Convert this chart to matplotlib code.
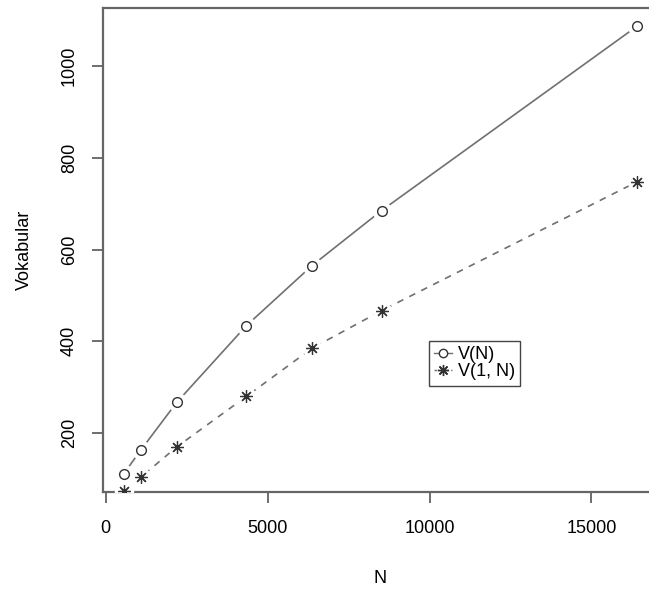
import matplotlib
matplotlib.use("Agg")
import matplotlib.pyplot as plt

N = [550, 1080, 2190, 4340, 6370, 8520, 16420]
V_N = [111, 163, 267, 434, 565, 685, 1087]
V_1N = [74, 104, 170, 280, 385, 467, 748]
xticks = [0, 5000, 10000, 15000]
yticks = [200, 400, 600, 800, 1000]

plt.rcParams['font.family'] = ['Liberation Sans', 'DejaVu Sans']
fs = 13

fig = plt.figure(figsize=(6.49, 5.89), dpi=100)
ax = fig.add_axes([103/649, 97/589, 555/649, 484/589])

lc = '#707070'
mc = '#333333'
ax.plot(N, V_N, '-', color=lc, lw=1.2, zorder=2)
ax.plot(N, V_1N, '--', color=lc, lw=1.2, dashes=(4, 4), zorder=2)
# white halos to create gaps like R type="b"
ax.plot(N, V_N, 'o', color='white', ms=14, mec='none', zorder=3)
ax.plot(N, V_1N, 'o', color='white', ms=14, mec='none', zorder=3)
ax.plot(N, V_N, 'o', mfc='white', mec=mc, ms=7, mew=1.0, ls='none', zorder=4)
ax.plot(N, V_1N, marker=(8, 2, 0), color=mc, ms=9, mew=0.9, ls='none', zorder=4)

# legend proxies
h1, = ax.plot([], [], '-', color=lc, lw=1.0, marker='o', mfc='white', mec=mc, ms=6)
h2, = ax.plot([], [], '--', color=lc, lw=1.0, dashes=(2, 2), marker=(8, 2, 0), mec=mc, ms=8)

xr = max(N) - min(N)
ax.set_xlim(min(N) - 0.04 * xr, max(N) + 0.04 * xr)
yr = max(V_N) - min(V_N)
ax.set_ylim(min(V_N) - 0.04 * yr, max(V_N) + 0.04 * yr)

ax.set_xticks(xticks)
ax.set_xticklabels([str(t) for t in xticks], fontsize=fs)
ax.set_yticks(yticks)
ax.set_yticklabels([str(t) for t in yticks], fontsize=fs, rotation=90, va='center')
ax.tick_params(axis='x', length=8, width=1.2, color='#555555', pad=12)
ax.tick_params(axis='y', length=8, width=1.2, color='#555555', pad=10)

for s in ['left', 'bottom', 'top', 'right']:
    ax.spines[s].set_color('#666666')
    ax.spines[s].set_linewidth(1.6)

ax.set_xlabel('N', fontsize=fs, labelpad=24)
ax.set_ylabel('Vokabular', fontsize=fs, labelpad=20)

leg = ax.legend([h1, h2], ['V(N)', 'V(1, N)'], loc='upper left',
                bbox_to_anchor=(0.587, 0.312), fontsize=fs, handlelength=1.0,
                handletextpad=0.3, labelspacing=0.0, borderpad=0.3,
                fancybox=False, framealpha=1, borderaxespad=0)
leg.get_frame().set_edgecolor('#444444')
leg.get_frame().set_linewidth(1.0)

fig.savefig('out.png', dpi=100)
